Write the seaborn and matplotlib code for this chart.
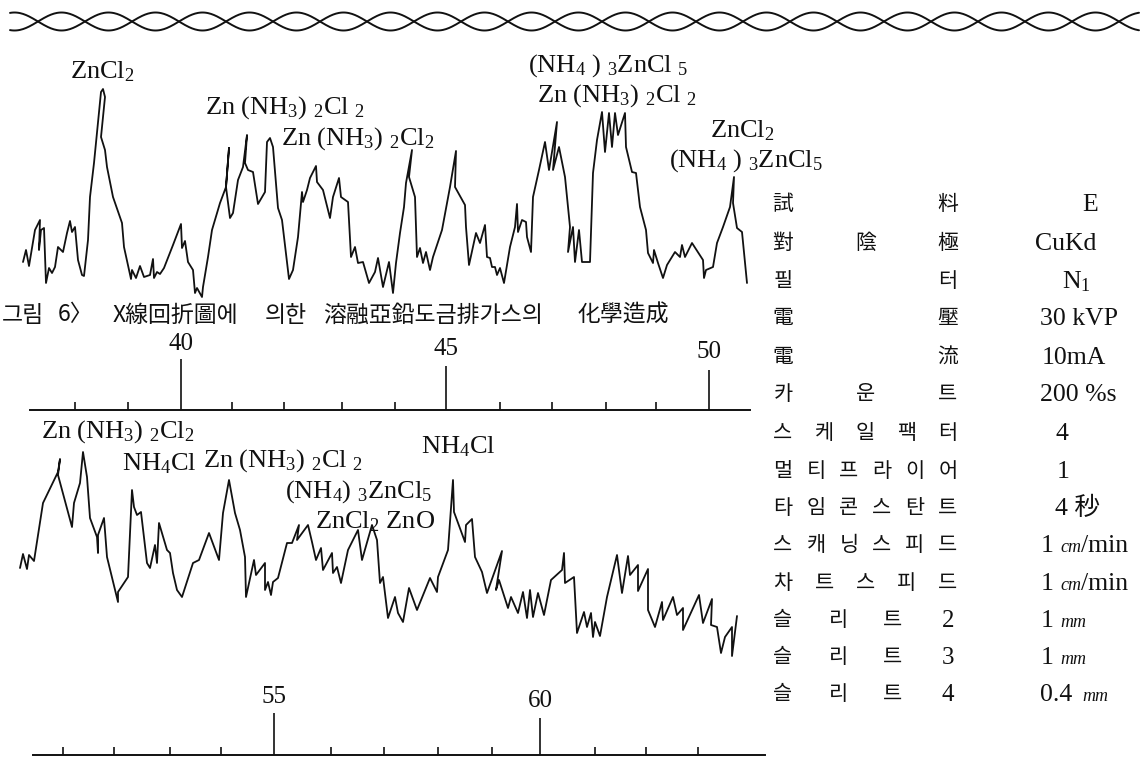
"""Redraw of the X-ray diffraction chart from a scanned paper page."""
import matplotlib
matplotlib.use("Agg")
import matplotlib.pyplot as plt
import numpy as np
import seaborn as sns

W, H = 1143, 757

# traces: chart position along the paper, pen height (image rows)
top_x = [23, 26, 29, 32, 35, 40, 39, 41, 44, 46, 49, 52, 55, 58, 63, 67, 70, 72, 75, 78, 82, 84, 88, 90, 94, 97,
         101, 103, 105, 101, 105, 107, 113, 122, 124, 131, 132, 136, 140, 144, 150, 153, 154, 157, 160, 164, 173,
         181, 182, 185, 188, 193, 195, 197, 202, 203, 208, 212, 220, 226, 229, 226, 230, 233, 238, 243, 247, 245,
         248, 253, 258, 265, 267, 270, 273, 278, 282, 289, 293, 298, 302, 303, 307, 310, 316, 317, 323, 325, 330,
         333, 339, 341, 348, 351, 355, 358, 363, 369, 375, 378, 383, 389, 393, 396, 400, 404, 406, 412, 409, 415,
         417, 420, 423, 426, 430, 433, 442, 450, 456, 455, 465, 466, 469, 476, 480, 485, 487, 490, 492, 495, 497,
         500, 504, 510, 515, 517, 518, 522, 526, 527, 531, 533, 539, 545, 549, 557, 553, 559, 565, 570, 568, 573,
         575, 579, 582, 590, 593, 597, 602, 605, 609, 612, 615, 618, 625, 626, 632, 636, 640, 646, 648, 653, 654,
         658, 663, 667, 675, 680, 682, 685, 692, 703, 704, 706, 713, 717, 723, 730, 734, 733, 737, 742, 747]
top_y = [262, 250, 266, 248, 230, 220, 250, 230, 228, 283, 268, 273, 267, 247, 252, 233, 221, 232, 227, 260, 275,
         276, 240, 197, 163, 133, 92, 89, 97, 137, 150, 167, 197, 223, 247, 279, 270, 278, 266, 277, 275, 259, 278,
         272, 274, 268, 245, 224, 248, 241, 262, 270, 293, 288, 297, 287, 257, 230, 203, 187, 148, 187, 218, 213,
         180, 167, 135, 163, 170, 172, 204, 192, 142, 138, 147, 208, 220, 279, 270, 237, 192, 202, 190, 178, 166,
         182, 190, 198, 218, 197, 178, 197, 202, 257, 247, 263, 262, 283, 272, 258, 287, 262, 293, 263, 233, 207,
         183, 150, 177, 197, 257, 248, 263, 252, 270, 257, 230, 187, 151, 187, 205, 227, 265, 233, 243, 225, 257,
         258, 267, 267, 275, 268, 283, 247, 227, 204, 232, 220, 222, 237, 252, 197, 170, 142, 170, 122, 170, 147,
         177, 227, 252, 227, 262, 230, 262, 262, 173, 140, 112, 152, 113, 147, 113, 135, 113, 147, 172, 173, 207,
         230, 253, 263, 250, 263, 278, 265, 252, 257, 245, 257, 243, 260, 278, 270, 267, 243, 227, 207, 177, 203,
         228, 232, 283]
bottom_x = [20, 23, 27, 29, 34, 43, 58, 60, 58, 72, 74, 80, 83, 87, 90, 97, 98, 98, 104, 107, 118, 118, 128, 132,
            134, 137, 141, 147, 150, 155, 157, 159, 167, 170, 173, 177, 182, 193, 199, 209, 219, 223, 229, 235, 240,
            245, 246, 254, 256, 265, 265, 268, 271, 273, 278, 287, 292, 299, 297, 308, 312, 316, 321, 323, 332, 333,
            337, 341, 348, 358, 362, 372, 377, 380, 383, 388, 395, 398, 403, 409, 417, 430, 437, 438, 448, 453, 454,
            465, 466, 472, 475, 482, 487, 502, 496, 499, 508, 511, 518, 523, 527, 530, 533, 538, 544, 551, 562, 564,
            565, 574, 577, 584, 587, 591, 593, 595, 600, 607, 617, 622, 628, 630, 638, 638, 648, 648, 655, 662, 663,
            673, 677, 683, 683, 699, 703, 712, 711, 717, 721, 725, 732, 732, 737]
bottom_y = [568, 554, 569, 555, 561, 503, 472, 459, 475, 527, 503, 483, 452, 477, 518, 537, 553, 535, 518, 557, 602,
            592, 577, 490, 507, 515, 512, 563, 568, 545, 563, 523, 550, 553, 573, 590, 597, 563, 560, 533, 560, 513,
            480, 513, 530, 557, 597, 560, 575, 563, 590, 582, 595, 582, 578, 543, 543, 525, 540, 525, 542, 560, 548,
            570, 553, 573, 567, 583, 550, 530, 560, 525, 540, 583, 577, 618, 597, 613, 622, 588, 610, 578, 592, 577,
            550, 480, 512, 542, 525, 519, 557, 572, 593, 551, 590, 580, 608, 597, 613, 592, 618, 590, 617, 593, 615,
            580, 570, 553, 583, 577, 633, 612, 627, 613, 637, 622, 636, 597, 555, 593, 556, 575, 565, 591, 569, 610,
            627, 602, 620, 597, 615, 608, 630, 595, 623, 599, 625, 627, 653, 637, 627, 656, 616]

# axis ticks
top_minor = [75, 128, 232, 284, 342, 395, 500, 552, 606, 656]
top_major = [181, 446, 709]
top_labels = ["40", "45", "50"]
bottom_minor = [63, 114, 170, 221, 331, 384, 438, 492, 595, 646, 698]
bottom_major = [274, 540]
bottom_labels = ["55", "60"]

# peak annotations
peak_labels = [
    "ZnCl$_2$", "Zn (NH$_3$) $_2$Cl $_2$", "Zn (NH$_3$) $_2$Cl$_2$", "(NH$_4$ ) $_3$ZnCl $_5$",
    "Zn (NH$_3$) $_2$Cl $_2$", "ZnCl$_2$", "(NH$_4$ ) $_3$ZnCl$_5$",
    "Zn (NH$_3$) $_2$Cl$_2$", "NH$_4$Cl", "Zn (NH$_3$) $_2$Cl $_2$", "(NH$_4$) $_3$ZnCl$_5$",
    "ZnCl$_2$ ZnO", "NH$_4$Cl",
]
peak_x = [70, 205, 281, 528, 537, 710, 669, 41, 122, 203, 285, 315, 421]
peak_y = [78, 114, 145, 72, 102, 137, 167, 438, 470, 467, 498, 528, 453]

# caption words, set apart the way the page sets them
caption_words = ["그림", "6〉", "X線回折圖에", "의한", "溶融亞鉛도금排가스의", "化學造成"]
caption_x = [2, 58, 113, 265, 323, 578]

# settings table
setting_names = ["試料", "對陰極", "필터", "電壓", "電流", "카운트", "스케일팩터", "멀티프라이어", "타임콘스탄트",
                 "스캐닝스피드", "차트스피드", "슬리트2", "슬리트3", "슬리트4"]
setting_values = ["E", "CuKd", "N$_1$", "30 kVP", "10mA", "200 %s", "4", "1", "4 秒", "1", "1", "1", "1", "0.4"]
value_x = [1082, 1035, 1062, 1040, 1042, 1040, 1055, 1057, 1055, 1041, 1041, 1041, 1041, 1040]
setting_units = ["", "", "", "", "", "", "", "", "", "cm", "cm", "mm", "mm", "mm"]
unit_x = [0, 0, 0, 0, 0, 0, 0, 0, 0, 1060, 1060, 1060, 1060, 1082]
row_y = [204, 243, 281, 318, 357, 394, 433, 471, 508, 545, 583, 620, 657, 694]

sns.set_theme(style="white")
plt.rcParams["font.family"] = ["Liberation Serif", "Noto Sans CJK KR"]
plt.rcParams["mathtext.fontset"] = "custom"
plt.rcParams["mathtext.rm"] = "Liberation Serif"
plt.rcParams["mathtext.it"] = "Liberation Serif:italic"
plt.rcParams["mathtext.default"] = "regular"

INK = "#111111"
CJK = ["Noto Sans CJK KR", "DejaVu Sans"]

fig = plt.figure(figsize=(W / 100, H / 100), dpi=100, facecolor="white")
page = fig.add_axes([0, 0, 1, 1])
page.set_xlim(0, W)
page.set_ylim(H, 0)
page.axis("off")

# braided rule at the top of the page
wave_x = np.arange(10, 1140)
wave = 9 * np.sin(2 * np.pi * (wave_x - 38) / 94)
page.plot(wave_x, 21.5 + wave, color=INK, lw=1.4)
page.plot(wave_x, 21.5 - wave, color=INK, lw=1.4)


def panel(x0, x1, y0, y1, bounds, xs, ys, minor, major, labels, label_rows, major_lens):
    ax = fig.add_axes([x0 / W, 1 - y1 / H, (x1 - x0) / W, (y1 - y0) / H])
    ax.patch.set_alpha(0)
    ax.set_xlim(x0, x1)
    ax.set_ylim(y1, y0)
    sns.lineplot(x=xs, y=ys, sort=False, estimator=None, color=INK, lw=1.3, ax=ax)
    sns.despine(ax=ax, left=True)
    ax.spines["bottom"].set_color(INK)
    ax.spines["bottom"].set_linewidth(1.4)
    ax.spines["bottom"].set_bounds(*bounds)
    ax.set_yticks([])
    ax.set_xticks(major)
    ax.set_xticks(minor, minor=True)
    ax.set_xticklabels([])
    ax.tick_params(axis="x", which="major", direction="in", width=1.2, color=INK, bottom=True)
    ax.tick_params(axis="x", which="minor", direction="in", length=6, width=1.2, color=INK, bottom=True)
    for tick, length in zip(ax.xaxis.get_major_ticks(), major_lens):
        tick.tick1line.set_markersize(length)
    for x, lab, row in zip(major, labels, label_rows):
        ax.text(x, row, lab, ha="center", va="baseline", fontsize=18, color=INK)
    return ax


panel(18, 768, 60, 410, (30, 750), top_x, top_y, top_minor, top_major, top_labels, [350, 355, 358], [37, 32, 29])
panel(18, 768, 440, 755, (33, 765), bottom_x, bottom_y, bottom_minor, bottom_major, bottom_labels,
      [703, 707], [30, 27])

for lab, x, y in zip(peak_labels, peak_x, peak_y):
    page.text(x, y, lab, ha="left", va="baseline", fontsize=19, color=INK, zorder=5)

for word, x in zip(caption_words, caption_x):
    page.text(x, 315, word, ha="left", va="center", fontsize=16.5, color=INK, family=CJK, fontweight="medium")

for name, val, vx, unit, ux, row in zip(setting_names, setting_values, value_x, setting_units, unit_x, row_y):
    chars = list(name)
    for ch, cx in zip(chars, np.linspace(783, 948, len(chars))):
        if ch.isdigit():
            page.text(cx, row + 7, ch, ha="center", va="baseline", fontsize=18, color=INK)
        else:
            page.text(cx, row, ch, ha="center", va="center", fontsize=15, color=INK, family=CJK, fontweight="medium")
    page.text(vx, row + 7, val, ha="left", va="baseline", fontsize=18.5, color=INK)
    if unit:
        page.text(ux, row + 7, unit, ha="left", va="baseline", fontsize=13, style="italic", color=INK)
    if unit == "cm":
        page.text(1081, row + 7, "/min", ha="left", va="baseline", fontsize=18.5, color=INK)

fig.savefig("out.png", dpi=100, facecolor="white")
